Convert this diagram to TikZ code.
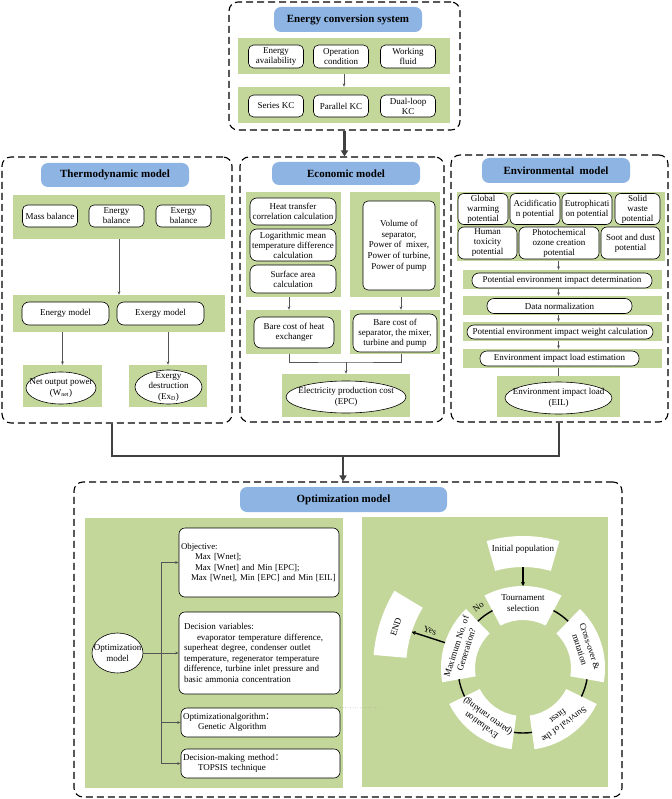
\documentclass[tikz,border=0pt]{standalone}
\usepackage{fontspec}
\setmainfont{Liberation Serif}
\newfontfamily\cjkf{Noto Sans CJK SC}
\usetikzlibrary{arrows.meta,shapes.geometric,calc}
\definecolor{gfill}{RGB}{196,215,155}
\definecolor{bfill}{RGB}{142,180,227}
\definecolor{lgray}{RGB}{85,85,85}
\definecolor{dkg}{RGB}{64,64,64}
\newcommand{\ringsec}[4]{\fill[white] (#1-#2:#3) arc[start angle=#1-#2, end angle=#1+#2, radius=#3] -- (#1+#2:#4) arc[start angle=#1+#2, end angle=#1-#2, radius=#4] -- cycle;}
\begin{document}
\begin{tikzpicture}[x=1pt,y=-1pt,
  panel/.style={draw=black, line width=1.1pt, dash pattern=on 7pt off 4pt, rounded corners=9pt, inner sep=0pt},
  ttl/.style={fill=bfill, rounded corners=7pt, font=\fontsize{11}{13}\selectfont\bfseries, inner sep=0pt},
  gb/.style={fill=gfill, inner sep=0pt},
  wb/.style={draw=black, fill=white, line width=0.6pt, rounded corners=5pt, inner sep=0.5pt, align=center, font=\fontsize{9}{10}\selectfont},
  pill/.style={wb, rounded corners=7pt},
  wbl/.style={draw=black, fill=white, line width=0.6pt, rounded corners=6pt, inner xsep=2pt, inner ysep=1pt, align=left, text width=#1, font=\fontsize{9}{10.5}\selectfont},
  el/.style={ellipse, draw=black, fill=white, line width=0.6pt, inner sep=0pt},
  eltxt/.style={align=center, font=\fontsize{9}{10.5}\selectfont, inner sep=0pt},
  arr/.style={draw=lgray, line width=0.6pt, -{Stealth[length=3.5pt,width=2.8pt]}},
  ln/.style={draw=lgray, line width=0.6pt},
  big/.style={draw=dkg, line width=2.6pt},
  bigarr/.style={big, -{Triangle[length=6pt,width=7pt]}},
  ring/.style={draw=black, line width=1.4pt},
  ringarr/.style={ring, -{Stealth[length=4pt,width=4pt]}},
  rtxt/.style={align=center, font=\fontsize{9}{10.5}\selectfont, inner sep=0pt}
  ]
\fill[white] (0,0) rectangle (671,799);
\useasboundingbox (0,0) rectangle (671,799);

% ---------- Energy conversion system
\node[panel, minimum width=231, minimum height=128] (top) at (344.5,66) {};
\node[ttl, minimum width=148, minimum height=25] (ttop) at (348,19.5) {Energy conversion system};
\node[gb, minimum width=212, minimum height=36] (ta) at (344,56) {};
\node[wb, minimum width=55, minimum height=23] (ea) at (276,56.5) {Energy\\availability};
\node[wb, minimum width=55, minimum height=23] (oc) at (341,56.5) {Operation\\condition};
\node[wb, minimum width=55, minimum height=23] (wf) at (408,56.5) {Working\\fluid};
\node[gb, minimum width=212, minimum height=36] (tb) at (344,105) {};
\node[wb, minimum width=55, minimum height=22] (skc) at (276,106) {Series KC};
\node[wb, minimum width=55, minimum height=22] (pkc) at (341,106) {Parallel KC};
\node[wb, minimum width=55, minimum height=22] (dkc) at (408,106) {Dual-loop\\KC};
\draw[arr] (ta.south) -- (tb.north);

% ---------- Thermodynamic model
\node[panel, minimum width=230, minimum height=266] (thm) at (117,290) {};
\node[ttl, minimum width=148, minimum height=24] (tthm) at (115,175) {Thermodynamic model};
\node[gb, minimum width=212, minimum height=44] (th1) at (119,217) {};
\node[wb, minimum width=55, minimum height=22] (mb) at (50,216) {Mass balance};
\node[wb, minimum width=55, minimum height=22] (enb) at (116.5,216) {Energy\\balance};
\node[wb, minimum width=55, minimum height=22] (exb) at (183.5,216) {Exergy\\balance};
\node[gb, minimum width=212, minimum height=37] (th2) at (119,313.5) {};
\node[wb, minimum width=87, minimum height=23, rounded corners=7pt] (enm) at (65.5,313.5) {Energy model};
\node[wb, minimum width=87, minimum height=23, rounded corners=7pt] (exm) at (160.5,313.5) {Exergy model};
\node[gb, minimum width=79, minimum height=42] (gnet) at (62.5,386) {};
\node[el, minimum width=70, minimum height=32] (net) at (61,388) {};
\node[eltxt] (nett) at (net) {Net output power\\(W\textsubscript{net})};
\node[gb, minimum width=78, minimum height=42] (gexd) at (168,386) {};
\node[el, minimum width=67, minimum height=34] (exd) at (168.5,387) {};
\node[eltxt] (exdt) at (exd) {Exergy\\destruction\\(Ex\textsubscript{D})};
\draw[arr] (th1.south) -- (th2.north);
\draw[arr] (gnet.north |- th2.south) -- (gnet.north);
\draw[arr] (gexd.north |- th2.south) -- (gexd.north);

% ---------- Economic model
\node[panel, minimum width=204, minimum height=265] (eco) at (342,289.5) {};
\node[ttl, minimum width=148, minimum height=23] (teco) at (346,173.5) {Economic model};
\node[gb, minimum width=95, minimum height=105] (e1) at (293.5,244.5) {};
\node[wb, minimum width=86, minimum height=27, rounded corners=7pt] (htc) at (293,211.5) {Heat transfer\\correlation calculation};
\node[wb, minimum width=86, minimum height=32, rounded corners=7pt] (lmtd) at (293,245) {Logarithmic mean\\temperature difference\\calculation};
\node[wb, minimum width=86, minimum height=28, rounded corners=7pt] (sac) at (293,279) {Surface area\\calculation};
\node[gb, minimum width=90, minimum height=105] (e2) at (395,244.5) {};
\node[wb, minimum width=72, minimum height=89, font=\fontsize{9}{10.7}\selectfont] (vol) at (399,245.5) {Volume of\\separator,\\Power of~ mixer,\\Power of turbine,\\Power of pump};
\node[gb, minimum width=95, minimum height=44] (e3) at (293.5,332) {};
\node[wb, minimum width=80, minimum height=31, rounded corners=7pt] (bhx) at (294,332.5) {Bare cost of heat\\exchanger};
\node[gb, minimum width=90, minimum height=44] (e4) at (395,332) {};
\node[wb, minimum width=84, minimum height=38, rounded corners=7pt] (bsep) at (395,333) {Bare cost of\\separator, the mixer,\\turbine and pump};
\node[gb, minimum width=128, minimum height=43] (epcg) at (346,395.5) {};
\node[el, minimum width=120, minimum height=32] (epc) at (346,397) {};
\node[eltxt] (epct) at (epc) {Electricity production cost\\(EPC)};
\draw[arr] ([xshift=-4.5pt]e1.south) -- ([xshift=-4.5pt]e3.north);
\draw[arr] ([xshift=6pt]e2.south) -- ([xshift=6pt]e4.north);
\coordinate (ej) at (346,362);
\draw[ln] ([xshift=-4.5pt]e3.south) |- (ej) -| ([xshift=6pt]e4.south);
\draw[arr] (ej) -- (ej |- epcg.north);

% ---------- Environmental model
\node[panel, minimum width=217, minimum height=267] (env) at (559.5,288.5) {};
\node[ttl, minimum width=148, minimum height=25] (tenv) at (556,170.5) {Environmental\ \ model};
\node[gb, minimum width=208, minimum height=69] (v0) at (561,226.5) {};
\begin{scope}[every node/.append style={font=\fontsize{9}{9.6}\selectfont}]
\node[wb, minimum width=50, minimum height=31, rounded corners=6pt] (gw) at (483,209) {Global\\warming\\potential};
\node[wb, minimum width=50, minimum height=31, rounded corners=6pt] (ac) at (535,209) {Acidificatio\\n potential};
\node[wb, minimum width=50, minimum height=31, rounded corners=6pt] (eu) at (587,209) {Eutrophicati\\on potential};
\node[wb, minimum width=45, minimum height=31, rounded corners=6pt] (sw) at (637.5,209) {Solid\\waste\\potential};
\node[wb, minimum width=59, minimum height=32, rounded corners=6pt] (ht) at (487.5,243) {Human\\toxicity\\potential};
\node[wb, minimum width=80, minimum height=32, rounded corners=6pt] (pc) at (559,243) {Photochemical\\ozone creation\\potential};
\node[wb, minimum width=59, minimum height=32, rounded corners=6pt] (sd) at (630.5,243) {Soot and dust\\potential};
\end{scope}
\node[gb, minimum width=199, minimum height=19] (s1) at (562.5,279.5) {};
\node[pill, minimum width=180, minimum height=15] (pe) at (562,280.5) {Potential environment impact determination};
\node[gb, minimum width=199, minimum height=19] (s2) at (562.5,305.5) {};
\node[pill, minimum width=145, minimum height=15] (dn) at (559.5,306) {Data normalization};
\node[gb, minimum width=199, minimum height=19] (s3) at (562.5,331.5) {};
\node[pill, minimum width=186, minimum height=14] (pw) at (560,332) {Potential environment impact weight calculation};
\node[gb, minimum width=199, minimum height=19] (s4) at (562.5,358.5) {};
\node[pill, minimum width=159, minimum height=15] (le) at (559.5,358.5) {Environment impact load estimation};
\node[gb, minimum width=123, minimum height=41] (eilg) at (558.5,396.5) {};
\node[el, minimum width=107, minimum height=32] (eil) at (558.5,398) {};
\node[eltxt] (eilt) at (eil) {Environment impact load\\(EIL)};
\draw[arr] (v0.south -| eilg.north) -- (s1.north -| eilg.north);
\draw[arr] (s1.south -| eilg.north) -- (s2.north -| eilg.north);
\draw[arr] (s2.south -| eilg.north) -- (s3.north -| eilg.north);
\draw[arr] (s3.south -| eilg.north) -- (s4.north -| eilg.north);
\draw[ln] (s4.south -| eilg.north) -- (eilg.north);

% ---------- Optimization model
\node[panel, minimum width=548, minimum height=315] (opt) at (348,639.5) {};
\node[ttl, minimum width=207, minimum height=25] (topt) at (343.5,499.5) {Optimization model};
\node[gb, minimum width=258, minimum height=270] (ol) at (214,653) {};
\node[gb, minimum width=246, minimum height=270] (orr) at (485,652) {};
\node[wbl=156, minimum height=69, font=\fontsize{8.8}{10.4}\selectfont] (obj) at (259,562.5) {Objective:\\
\hspace*{14pt}Max [Wnet];\\
\hspace*{14pt}Max [Wnet] and Min [EPC];\\
\mbox{\hspace*{10pt}Max [Wnet], Min [EPC] and Min [EIL]}};
\node[wbl=157, minimum height=82] (dv) at (259.5,653) {\hspace*{3pt}Decision variables:\\
\hspace*{16pt}evaporator temperature difference,\\
\hspace*{3pt}superheat degree, condenser outlet\\
\hspace*{3pt}temperature, regenerator temperature\\
\hspace*{3pt}difference, turbine inlet pressure and\\
\hspace*{3pt}basic ammonia concentration};
\node[wbl=155, minimum height=29] (oa) at (260.5,722.5) {Optimizationalgorithm{\cjkf ：}\\
\hspace*{15pt}Genetic Algorithm};
\node[wbl=155, minimum height=29] (dm) at (260.5,763.5) {Decision-making method{\cjkf ：}\\
\hspace*{15pt}TOPSIS technique};
\node[el, minimum width=51, minimum height=40] (oe) at (117.5,653) {};
\node[eltxt] (oet) at (oe) {Optimization\\model};
\coordinate (tx) at (161,653);
\draw[arr] (oe.east) -- (dv.west);
\draw[ln] (tx |- obj.west) -- (tx |- dm.west);
\draw[arr] (tx |- obj.west) -- (obj.west);
\draw[arr] (tx |- oa.west) -- (oa.west);
\draw[arr] (tx |- dm.west) -- (dm.west);
\coordinate (dotend) at (380,708);
\draw[gray, line width=0.5pt, dotted] (oa.north east) -- (dotend);

% ---------- main thick connectors
\coordinate (jL) at (112,456);
\coordinate (jM) at (343,456);
\coordinate (jR) at (559,456);
\draw[bigarr] (top.south) -- (top.south |- eco.north);
\draw[big] (jL |- thm.south) -- (jL) -- (jR) -- (jR |- env.south);
\draw[bigarr] (jM) -- (jM |- opt.north);

% ---------- genetic algorithm ring
\begin{scope}[shift={(523,668)}, y=1pt]
  \ringsec{90}{16}{101}{132}
  \ringsec{162}{13}{117}{150}
  \ringsec{90}{28}{48}{82}
  \ringsec{18}{28}{48}{82}
  \ringsec{-54}{28}{48}{82}
  \ringsec{-126}{28}{48}{82}
  \ringsec{162}{28}{48}{82}
  \node[rtxt] (ip) at (90:119) {Initial population};
  \node[rtxt, rotate=72] (en) at (162:133.5) {END};
  \node[rtxt] (ts) at (90:65) {Tournament\\selection};
  \node[rtxt, rotate=-72] (co) at (18:65) {Cross-over \&\\mutation};
  \node[rtxt, rotate=-144] (sf) at (-54:65) {Survival of the\\fitest};
  \node[rtxt, rotate=144] (ev) at (-126:65) {Evaluation\\(pareto ranking)};
  \node[rtxt, rotate=72] (mx) at (162:65) {Maximum No. of\\Generation?};
  \draw[ringarr] (90:101) -- (90:82);
  \draw[ringarr] (162:82) -- (162:117);
  \draw[ring] (62:65) arc[start angle=62, end angle=46, radius=65];
  \draw[ring] (-10:65) arc[start angle=-10, end angle=-26, radius=65];
  \draw[ring] (-82:65) arc[start angle=-82, end angle=-98, radius=65];
  \draw[ring] (-154:65) arc[start angle=-154, end angle=-170, radius=65];
  \draw[ring] (134:65) arc[start angle=134, end angle=118, radius=65];
  \node[rtxt, rotate=-18] (yes) at ($(162:100)+(72:7)$) {Yes};
  \node[rtxt, rotate=36] (no) at (126:76) {No};
\end{scope}
\end{tikzpicture}
\end{document}
